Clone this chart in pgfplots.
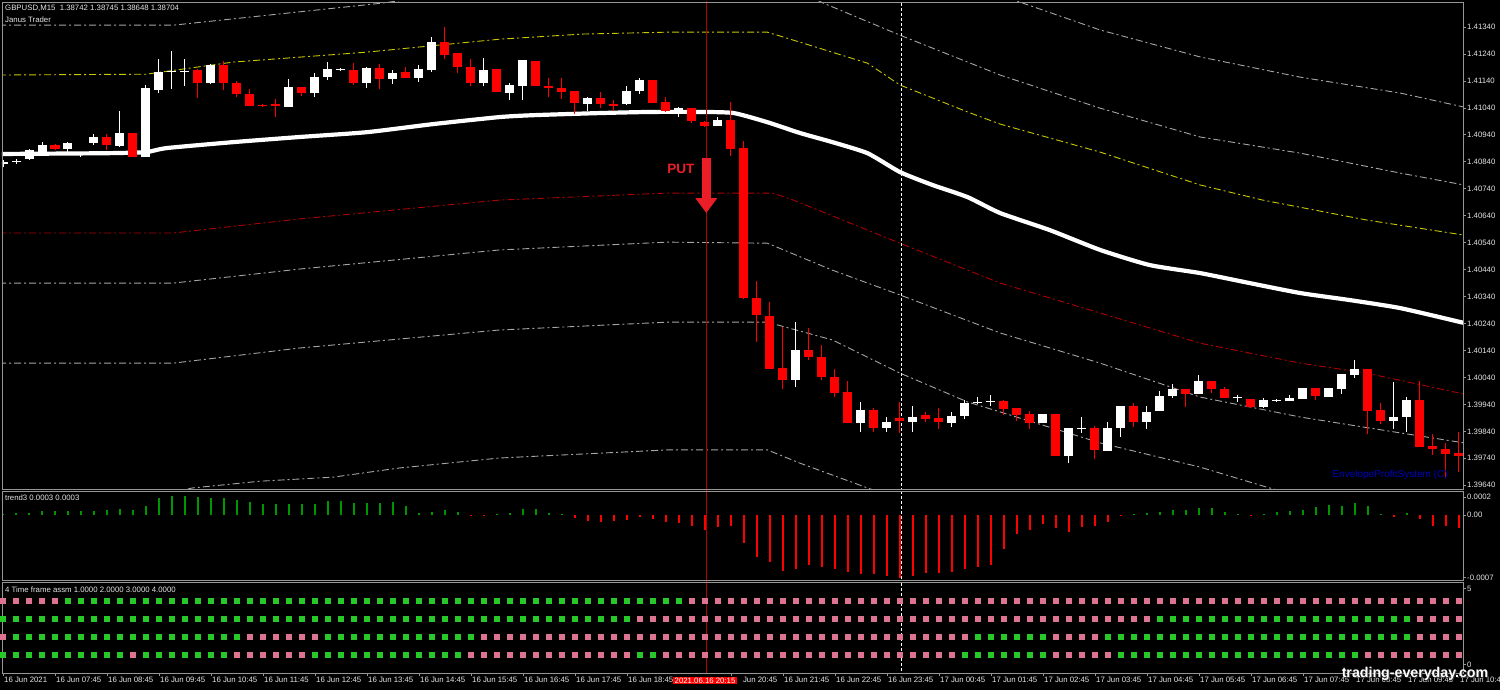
\documentclass[border=0pt]{standalone}
\usepackage{fontspec}
\setmainfont{Liberation Sans}
\usepackage{pgfplots}
\pgfplotsset{compat=1.18}
\usepackage{pgfplotstable}
\usetikzlibrary{arrows.meta}

\definecolor{fg}{RGB}{230,230,230}
\definecolor{frame}{RGB}{150,150,150}
\definecolor{envgray}{RGB}{165,165,165}
\definecolor{envyel}{RGB}{200,200,0}
\definecolor{envred}{RGB}{175,0,0}
\definecolor{bear}{RGB}{255,0,0}
\definecolor{trg}{RGB}{0,150,0}
\definecolor{trr}{RGB}{255,0,0}
\definecolor{tfg}{RGB}{40,200,40}
\definecolor{tfp}{RGB}{220,115,145}
\definecolor{vline}{RGB}{175,0,0}
\definecolor{putred}{RGB}{235,30,40}
\definecolor{eps}{RGB}{0,0,190}

\newcommand\lbl{\fontsize{7.8}{8}\selectfont}

\pgfplotstableread{
i op hi lo cl tr ra rb rc rd
0 1.40832 1.40846 1.40820 1.40839 0.00001 0 1 0 1
1 1.40839 1.40850 1.40832 1.40843 0.000022 0 1 1 1
2 1.40850 1.40887 1.40846 1.40884 0.000026 0 1 1 1
3 1.40876 1.40913 1.40872 1.40902 0.000041 0 1 1 1
4 1.40902 1.40906 1.40884 1.40887 0.000041 0 1 1 1
5 1.40887 1.40913 1.40876 1.40910 0.000041 1 1 1 1
6 1.40865 1.40872 1.40858 1.40869 0.000041 1 1 1 1
7 1.40910 1.40943 1.40902 1.40932 0.000041 1 1 1 1
8 1.40932 1.40943 1.40884 1.40902 0.000052 1 1 1 1
9 1.40898 1.41028 1.40895 1.40947 0.000071 1 1 1 1
10 1.40947 1.40947 1.40858 1.40858 0.000060 1 1 1 0
11 1.40858 1.41125 1.40858 1.41114 0.000105 1 1 1 1
12 1.41106 1.41221 1.41095 1.41173 0.000191 1 1 1 1
13 1.41173 1.41251 1.41110 1.41177 0.000210 1 1 1 1
14 1.41173 1.41221 1.41121 1.41177 0.000210 1 1 1 1
15 1.41180 1.41184 1.41076 1.41132 0.000202 1 1 1 1
16 1.41132 1.41203 1.41128 1.41199 0.000191 1 1 1 1
17 1.41199 1.41214 1.41106 1.41132 0.000187 1 1 1 1
18 1.41132 1.41140 1.41080 1.41091 0.000165 1 1 1 0
19 1.41091 1.41110 1.41047 1.41047 0.000146 1 1 0 0
20 1.41050 1.41054 1.41043 1.41047 0.000127 1 1 0 0
21 1.41054 1.41073 1.41006 1.41047 0.000120 1 1 0 0
22 1.41043 1.41147 1.41043 1.41117 0.000127 1 1 0 0
23 1.41117 1.41117 1.41084 1.41095 0.000120 1 1 0 0
24 1.41095 1.41169 1.41080 1.41154 0.000127 1 1 0 1
25 1.41154 1.41210 1.41143 1.41184 0.000154 1 1 1 1
26 1.41180 1.41188 1.41177 1.41184 0.000154 1 1 1 1
27 1.41180 1.41206 1.41125 1.41132 0.000135 1 1 1 1
28 1.41132 1.41191 1.41114 1.41188 0.000135 1 1 1 1
29 1.41188 1.41203 1.41110 1.41147 0.000135 1 1 1 1
30 1.41147 1.41180 1.41128 1.41169 0.000142 1 1 1 1
31 1.41173 1.41191 1.41151 1.41151 0.000097 1 1 1 1
32 1.41151 1.41199 1.41136 1.41184 0.000022 1 1 1 1
33 1.41180 1.41303 1.41173 1.41284 0.000034 1 1 1 1
34 1.41284 1.41340 1.41221 1.41236 0.000052 1 1 1 1
35 1.41243 1.41243 1.41169 1.41191 0.000034 1 1 1 1
36 1.41191 1.41221 1.41121 1.41132 -0.00001 1 1 1 0
37 1.41132 1.41225 1.41121 1.41180 -0.00001 1 1 0 0
38 1.41184 1.41184 1.41099 1.41099 0.000015 1 1 0 0
39 1.41095 1.41132 1.41069 1.41125 0.000026 1 1 0 0
40 1.41121 1.41217 1.41069 1.41217 0.000071 1 1 0 0
41 1.41214 1.41214 1.41121 1.41121 0.000071 1 1 0 0
42 1.41121 1.41151 1.41080 1.41114 0.000026 1 1 0 0
43 1.41114 1.41151 1.41073 1.41099 0.00001 1 1 0 0
44 1.41102 1.41102 1.41017 1.41058 -0.000034 1 1 0 0
45 1.41054 1.41080 1.41028 1.41076 -0.000067 1 1 0 0
46 1.41076 1.41099 1.41039 1.41054 -0.000079 1 1 0 0
47 1.41054 1.41069 1.41028 1.41047 -0.000067 1 1 0 0
48 1.41054 1.41121 1.41050 1.41102 -0.000060 1 1 0 0
49 1.41102 1.41151 1.41091 1.41143 -0.000022 1 0 0 1
50 1.41143 1.41143 1.41058 1.41058 -0.000041 1 0 0 1
51 1.41062 1.41080 1.41025 1.41028 -0.000079 1 0 0 0
52 1.41032 1.41043 1.41006 1.41039 -0.000090 1 0 0 0
53 1.41039 1.41039 1.40984 1.40991 -0.000127 0 0 0 0
54 1.40987 1.40991 1.40969 1.40973 -0.000165 0 0 0 0
55 1.40973 1.41006 1.40973 1.40995 -0.000135 0 0 0 0
56 1.40995 1.41062 1.40861 1.40887 -0.000127 0 0 0 0
57 1.40891 1.40917 1.40331 1.40334 -0.000311 0 0 0 0
58 1.40334 1.40398 1.40171 1.40271 -0.000476 0 0 0 0
59 1.40268 1.40320 1.40071 1.40071 -0.000532 0 0 0 0
60 1.40075 1.40227 1.39997 1.40030 -0.000629 0 0 0 0
61 1.40030 1.40245 1.40004 1.40142 -0.000610 0 0 0 0
62 1.40142 1.40223 1.40104 1.40116 -0.000562 0 0 0 0
63 1.40116 1.40160 1.40030 1.40041 -0.000588 0 0 0 0
64 1.40041 1.40071 1.39967 1.39982 -0.000607 0 0 0 0
65 1.39986 1.40027 1.39871 1.39871 -0.000640 0 0 0 0
66 1.39871 1.39949 1.39837 1.39919 -0.000659 0 0 0 0
67 1.39919 1.39926 1.39837 1.39852 -0.000659 0 0 0 0
68 1.39852 1.39893 1.39837 1.39874 -0.000685 0 0 0 0
69 1.39889 1.39949 1.39834 1.39878 -0.000712 0 0 0 0
70 1.39874 1.39934 1.39837 1.39893 -0.000685 0 0 0 0
71 1.39900 1.39912 1.39874 1.39886 -0.000648 0 0 0 0
72 1.39889 1.39926 1.39848 1.39874 -0.000648 0 0 0 0
73 1.39871 1.39912 1.39856 1.39897 -0.000637 0 0 0 0
74 1.39897 1.39956 1.39886 1.39945 -0.000607 0 0 0 1
75 1.39945 1.39967 1.39941 1.39949 -0.000588 0 0 1 1
76 1.39949 1.39975 1.39934 1.39952 -0.000562 0 0 1 1
77 1.39952 1.39956 1.39900 1.39923 -0.000382 0 0 1 1
78 1.39926 1.39926 1.39878 1.39900 -0.000217 0 0 1 1
79 1.39904 1.39915 1.39848 1.39871 -0.000169 0 0 1 1
80 1.39871 1.39904 1.39871 1.39904 -0.000101 0 0 1 1
81 1.39904 1.39904 1.39748 1.39748 -0.000142 0 0 0 0
82 1.39748 1.39852 1.39722 1.39852 -0.000195 0 0 0 0
83 1.39848 1.39893 1.39834 1.39852 -0.000131 0 0 0 0
84 1.39852 1.39860 1.39737 1.39771 -0.000120 0 0 0 0
85 1.39767 1.39874 1.39767 1.39852 -0.000075 0 0 1 0
86 1.39852 1.39934 1.39819 1.39934 -0.00001 0 0 1 1
87 1.39934 1.39945 1.39856 1.39874 0.000011 0 0 1 1
88 1.39874 1.39934 1.39848 1.39912 0.000019 0 0 1 1
89 1.39915 1.39989 1.39915 1.39971 0.000034 0 1 1 1
90 1.39971 1.40015 1.39963 1.39997 0.000056 0 1 1 1
91 1.39997 1.39997 1.39930 1.39978 0.000056 0 1 1 1
92 1.39978 1.40049 1.39978 1.40027 0.000075 0 1 1 1
93 1.40027 1.40027 1.39982 1.39997 0.000075 0 1 1 1
94 1.39997 1.40004 1.39963 1.39963 0.000034 0 1 1 1
95 1.39963 1.39975 1.39949 1.39967 0.000011 0 1 1 1
96 1.39960 1.39960 1.39926 1.39930 -0.00001 0 1 1 1
97 1.39930 1.39963 1.39926 1.39956 0.000011 0 1 1 1
98 1.39952 1.39960 1.39949 1.39956 0.000030 0 1 1 1
99 1.39952 1.39975 1.39952 1.39963 0.000049 0 1 1 1
100 1.39960 1.40001 1.39960 1.40001 0.000056 0 1 1 1
101 1.40001 1.40001 1.39956 1.39971 0.000094 0 1 1 1
102 1.39967 1.40001 1.39967 1.40001 0.000112 0 1 1 1
103 1.39997 1.40053 1.39978 1.40053 0.000101 0 1 1 1
104 1.40049 1.40104 1.40038 1.40071 0.000139 0 1 1 1
105 1.40071 1.40071 1.39830 1.39915 0.000101 0 1 1 0
106 1.39919 1.39945 1.39867 1.39878 0.000015 0 1 1 0
107 1.39878 1.40023 1.39848 1.39893 -0.000019 0 1 1 0
108 1.39893 1.39967 1.39837 1.39956 0.000019 0 1 1 0
109 1.39956 1.40027 1.39782 1.39782 -0.000045 0 0 0 0
110 1.39785 1.39830 1.39752 1.39774 -0.000120 0 0 0 0
111 1.39774 1.39797 1.39670 1.39756 -0.000124 0 0 0 0
112 1.39759 1.39837 1.39689 1.39748 -0.000142 0 0 0 0
}\data

\pgfplotsset{
  mt/.style={scale only axis, width=1461pt,
    xmin=-0.077, xmax=112.31,
    axis line style={draw=frame, line width=0.8pt},
    xtick=\empty, ytick pos=right, yticklabel pos=right,
    tick align=outside, major tick length=3pt,
    tick style={draw=frame, line width=0.8pt},
    yticklabel style={font=\lbl, text=fg, inner sep=1pt},
    scaled y ticks=false, scaled x ticks=false,
    axis on top, clip=true},
  env/.style={line width=0.9pt, dash pattern=on 7pt off 3pt on 2pt off 3pt},
}

\begin{document}
\begin{tikzpicture}
\fill[black] (0pt,0pt) rectangle (1500pt,690pt);

% ---------------- main price panel ----------------
\begin{axis}[mt, at={(2pt,201pt)}, anchor=south west, height=487pt,
  ymin=1.39626, ymax=1.41433,
  ytick={1.3964,1.3974,1.3984,1.3994,1.4004,1.4014,1.4024,1.4034,1.4044,1.4054,1.4064,1.4074,1.4084,1.4094,1.4104,1.4114,1.4124,1.4134},
  yticklabels={1.39640,1.39740,1.39840,1.39940,1.40040,1.40140,1.40240,1.40340,1.40440,1.40540,1.40640,1.40740,1.40840,1.40940,1.41040,1.41140,1.41240,1.41340}]

% envelopes
\addplot[envgray, env] coordinates {(74,1.41503) (76.7,1.41462) (78.2,1.41433) (84.4,1.41329) (92.1,1.41229) (99.8,1.41154) (107.5,1.41095) (112.4,1.41043)};
\addplot[envgray, env] coordinates {(-0.3,1.41347) (13.1,1.41347) (29.2,1.41429) (38.2,1.41492) (51.1,1.41514) (58.8,1.41514) (61.3,1.41470) (63.1,1.41429) (69,1.41310) (76.7,1.41162) (84.4,1.41039) (92.1,1.40932) (99.8,1.40872) (107.5,1.40798) (112.4,1.40754)};
\addplot[envyel, env] coordinates {(-0.3,1.41162) (11,1.41165) (17.7,1.41210) (28,1.41247) (38.2,1.41295) (44.6,1.41314) (51.1,1.41321) (58.8,1.41321) (61.3,1.41284) (66.5,1.41206) (69,1.41125) (74.2,1.41025) (76.7,1.40980) (84.4,1.40876) (92.1,1.40754) (96.9,1.40698) (104.9,1.40624) (112.4,1.40568)};
\addplot[envred, env] coordinates {(-0.3,1.40576) (13.1,1.40576) (22.8,1.40628) (38.2,1.40698) (51.1,1.40724) (59.2,1.40724) (60.8,1.40698) (69,1.40538) (76.7,1.40390) (84.4,1.40279) (92.1,1.40167) (99.8,1.40093) (104.9,1.40056) (112.4,1.39978)};
\addplot[envgray, env] coordinates {(-0.3,1.40390) (13.1,1.40390) (22.8,1.40442) (38.2,1.40513) (51.1,1.40542) (58.8,1.40538) (63.8,1.40438) (69,1.40346) (76.7,1.40205) (84.4,1.40093) (92.1,1.39967) (99.8,1.39893) (107.5,1.39834) (112.4,1.39797)};
\addplot[envgray, env] coordinates {(-0.3,1.40093) (13.1,1.40093) (22.8,1.40149) (38.2,1.40216) (51.1,1.40245) (58.8,1.40245) (63.8,1.40179) (69,1.40056) (74.2,1.39949) (76.7,1.39912) (84.4,1.39797) (92.1,1.39707) (97.2,1.39633) (100,1.39596)};
\addplot[envgray, env] coordinates {(13.1,1.39615) (14.6,1.39630) (19.8,1.39655) (25.4,1.39670) (30.5,1.39704) (38.2,1.39741) (51.1,1.39771) (58.8,1.39771) (61.3,1.39722) (66.5,1.39630) (68,1.39604)};

% moving average
\addplot[white, line width=4.2pt, line join=round, smooth, tension=0.35] coordinates {(-0.3,1.40869) (8,1.40872) (11,1.40876) (12.6,1.40891) (17.7,1.40913) (22.8,1.40932) (28,1.40950) (33.1,1.40980) (38.2,1.41006) (40.8,1.41013) (46,1.41021) (49.8,1.41025) (53.6,1.41025) (56.2,1.41021) (58.8,1.40987) (61.3,1.40947) (63.8,1.40913) (66.5,1.40872) (69,1.40802) (71.5,1.40754) (74.2,1.40709) (76.7,1.40650) (80.5,1.40587) (84.4,1.40513) (88.2,1.40457) (92.1,1.40427) (95.9,1.40390) (99.8,1.40353) (103.6,1.40327) (107.5,1.40297) (112.4,1.40242)};

% vertical markers
\draw[vline, line width=1.3pt] (axis cs:54.1,1.396) -- (axis cs:54.1,1.415);
\draw[white, line width=0.8pt, dash pattern=on 3pt off 2pt] (axis cs:69.1,1.396) -- (axis cs:69.1,1.415);

% candle wicks
\addplot[draw=none, forget plot, restrict expr to domain={\thisrow{cl}-\thisrow{op}}{0:1},
  error bars/.cd, y dir=plus, y explicit, error mark=none, error bar style={draw=white, line width=1pt}]
  table[x=i, y=lo, y error expr=\thisrow{hi}-\thisrow{lo}] {\data};
\addplot[draw=none, forget plot, restrict expr to domain={\thisrow{cl}-\thisrow{op}}{-1:0},
  error bars/.cd, y dir=plus, y explicit, error mark=none, error bar style={draw=bear, line width=1pt}]
  table[x=i, y=lo, y error expr=\thisrow{hi}-\thisrow{lo}] {\data};
% candle bodies
\addplot[draw=none, forget plot, restrict expr to domain={\thisrow{cl}-\thisrow{op}}{0:1},
  error bars/.cd, y dir=plus, y explicit, error mark=none, error bar style={draw=white, line width=9pt}]
  table[x=i, y=op, y error expr=\thisrow{cl}-\thisrow{op}] {\data};
\addplot[draw=none, forget plot, restrict expr to domain={\thisrow{cl}-\thisrow{op}}{-1:0},
  error bars/.cd, y dir=plus, y explicit, error mark=none, error bar style={draw=bear, line width=9pt}]
  table[x=i, y=cl, y error expr=\thisrow{op}-\thisrow{cl}] {\data};

% PUT signal
\addplot[putred, line width=9pt, -{Triangle[width=21pt,length=15pt]}] coordinates {(54.1,1.40854) (54.1,1.40650)};
\node[text=putred, font=\bfseries\fontsize{13.5}{14}\selectfont] at (axis cs:52.15,1.40813) {PUT};
\node[text=eps, font=\fontsize{10}{10}\selectfont] at (axis cs:106.7,1.39678) {EnvelopeProfitSystem (C)};
\end{axis}

% ---------------- trend3 panel ----------------
\begin{axis}[mt, at={(2pt,110pt)}, anchor=south west, height=89pt,
  ymin=-0.00073, ymax=0.00027,
  ytick={-0.0007,0,0.0002}, yticklabels={-0.0007,0.00,0.0002}]
\addplot[ycomb, trg, line width=2pt, restrict expr to domain={\thisrow{tr}}{0:1}] table[x=i, y=tr] {\data};
\addplot[ycomb, trr, line width=2pt, restrict expr to domain={\thisrow{tr}}{-1:0}] table[x=i, y=tr] {\data};
\draw[vline, line width=1.3pt] (axis cs:54.1,-0.001) -- (axis cs:54.1,0.001);
\draw[white, line width=0.8pt, dash pattern=on 3pt off 2pt] (axis cs:69.1,-0.001) -- (axis cs:69.1,0.001);
\end{axis}

% ---------------- 4 time frame panel ----------------
\begin{axis}[mt, at={(2pt,17pt)}, anchor=south west, height=91pt,
  ymin=0, ymax=5.0556,
  ytick={0.45,4.7}, yticklabels={0,5},
  xtick={0,4,8,12,16,20,24,28,32,36,40,44,48,56,60,64,68,72,76,80,84,88,92,96,100,104,108,112},
  xticklabels={16 Jun 2021,16 Jun 07:45,16 Jun 08:45,16 Jun 09:45,16 Jun 10:45,16 Jun 11:45,16 Jun 12:45,16 Jun 13:45,16 Jun 14:45,16 Jun 15:45,16 Jun 16:45,16 Jun 17:45,16 Jun 18:45,\phantom{16 }Jun 20:45,16 Jun 21:45,16 Jun 22:45,16 Jun 23:45,17 Jun 00:45,17 Jun 01:45,17 Jun 02:45,17 Jun 03:45,17 Jun 04:45,17 Jun 05:45,17 Jun 06:45,17 Jun 07:45,17 Jun 08:45,17 Jun 09:45,17 Jun 10:45},
  xtick pos=bottom, xticklabel pos=bottom,
  xticklabel style={anchor=north west, font=\lbl, text=fg, inner sep=1pt}]
\addplot[only marks, mark=square*, mark size=2.4pt, tfg, restrict expr to domain={\thisrow{ra}}{0.5:1.5}] table[x=i, y expr=4] {\data};
\addplot[only marks, mark=square*, mark size=2.4pt, tfp, restrict expr to domain={\thisrow{ra}}{-0.5:0.5}] table[x=i, y expr=4] {\data};
\addplot[only marks, mark=square*, mark size=2.4pt, tfg, restrict expr to domain={\thisrow{rb}}{0.5:1.5}] table[x=i, y expr=3] {\data};
\addplot[only marks, mark=square*, mark size=2.4pt, tfp, restrict expr to domain={\thisrow{rb}}{-0.5:0.5}] table[x=i, y expr=3] {\data};
\addplot[only marks, mark=square*, mark size=2.4pt, tfg, restrict expr to domain={\thisrow{rc}}{0.5:1.5}] table[x=i, y expr=2] {\data};
\addplot[only marks, mark=square*, mark size=2.4pt, tfp, restrict expr to domain={\thisrow{rc}}{-0.5:0.5}] table[x=i, y expr=2] {\data};
\addplot[only marks, mark=square*, mark size=2.4pt, tfg, restrict expr to domain={\thisrow{rd}}{0.5:1.5}] table[x=i, y expr=1] {\data};
\addplot[only marks, mark=square*, mark size=2.4pt, tfp, restrict expr to domain={\thisrow{rd}}{-0.5:0.5}] table[x=i, y expr=1] {\data};
\draw[vline, line width=1.3pt] (axis cs:54.1,-1) -- (axis cs:54.1,6);
\draw[white, line width=0.8pt, dash pattern=on 3pt off 2pt] (axis cs:69.1,-1) -- (axis cs:69.1,6);
\end{axis}

% ---------------- texts ----------------
\node[anchor=west, font=\lbl, text=fg, inner sep=0pt] at (5pt,682pt) {GBPUSD,M15\ \ 1.38742 1.38745 1.38648 1.38704};
\node[anchor=west, font=\lbl, text=fg, inner sep=0pt] at (5pt,670.5pt) {Janus Trader};
\node[anchor=west, font=\lbl, text=fg, inner sep=0pt] at (5pt,192pt) {trend3 0.0003 0.0003};
\node[anchor=west, font=\lbl, text=fg, inner sep=0pt] at (5pt,100pt) {4 Time frame assm 1.0000 2.0000 3.0000 4.0000};
\node[anchor=west, fill=red, text=white, font=\lbl, inner xsep=1.5pt, inner ysep=1.2pt] at (673pt,9.5pt) {2021.06.16 20:15};

\node[text=black!80, font=\bfseries\fontsize{14.2}{15}\selectfont] at (1416pt,15pt) {trading-everyday.com};
\node[text=white, font=\bfseries\fontsize{14.2}{15}\selectfont] at (1415pt,16pt) {trading-everyday.com};

\pgfresetboundingbox
\useasboundingbox (0pt,0pt) rectangle (1500pt,690pt);
\end{tikzpicture}
\end{document}
